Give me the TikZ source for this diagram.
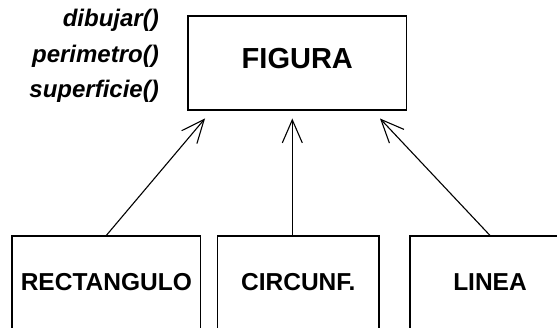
\documentclass[tikz,border=0pt]{standalone}
\usepackage{fontspec}
\setmainfont{Liberation Sans}
\usetikzlibrary{arrows.meta}
\tikzset{
  box/.style={draw,line width=1.1pt,inner sep=0pt,minimum height=100pt,text depth=8pt,
    font=\fontsize{24.5}{28}\selectfont\bfseries},
  meth/.style={anchor=base east,inner sep=0pt,
    font=\fontsize{24}{28}\selectfont\bfseries\itshape},
  inh/.style={line width=1.1pt,-{Straight Barb[length=23pt,width=20pt]}}
}
\begin{document}
\begin{tikzpicture}[x=1pt,y=1pt]
  \useasboundingbox (0,0) rectangle (557,327);
  \clip (0,0) rectangle (557,327);
  \draw
    (297.3,264) node[box,minimum width=218.7pt,minimum height=94pt,text depth=9pt,
      font=\fontsize{29}{34}\selectfont\bfseries] (figura){FIGURA}
    (159,300) node[meth] (dibujar){dibujar()}
    (159,264) node[meth] (perimetro){perimetro()}
    (159,229) node[meth] (superficie){superficie()}
    (106.3,41) node[box,minimum width=188.7pt] (rect){RECTANGULO}
    (298.3,41) node[box,minimum width=161.3pt] (circ){CIRCUNF.}
    (490,41) node[box,minimum width=160pt] (linea){LINEA};
  \coordinate (tl) at (205,208.5);
  \coordinate (tc) at (292.3,208.5);
  \coordinate (tr) at (380,208.5);
  \begin{scope}[inh]
    \draw (rect.north) to (tl);
    \draw ([xshift=-6pt]circ.north) to (tc);
    \draw (linea.north) to (tr);
  \end{scope}
\end{tikzpicture}
\end{document}
